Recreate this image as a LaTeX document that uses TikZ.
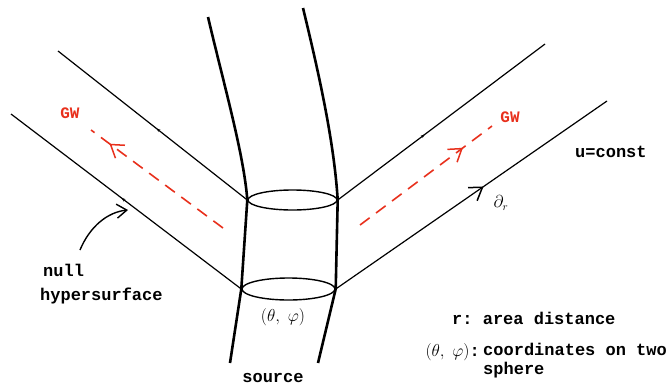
\documentclass[tikz,border=0pt]{standalone}
\usepackage{fontspec}
\setmonofont{Liberation Mono}
\usetikzlibrary{arrows.meta,decorations.markings,shapes.geometric}
\definecolor{gwred}{RGB}{232,48,28}
\tikzset{
ray/.style={line width=1.2pt},
tube/.style={line width=2.6pt},
ring/.style={draw,ellipse,line width=1.4pt,inner sep=0pt},
gw/.style={gwred,line width=1.6pt,dash pattern=on 12pt off 8pt},
tiptick/.style={postaction={decorate},decoration={markings,
  mark=at position #1 with {\arrow{Stealth[length=4pt,width=3pt]}}}},
tipbarb/.style={postaction={decorate},decoration={markings,
  mark=at position #1 with {\arrow[solid,line width=1.5pt]{Straight Barb[length=12pt,width=16pt]}}}},
lbl/.style={font=\ttfamily\bfseries\fontsize{17}{19}\selectfont,inner sep=0pt}
}
\begin{document}
\begin{tikzpicture}[x=1pt,y=-1pt]
\useasboundingbox (0,0) rectangle (670,386);

\node[ring,minimum width=89pt,minimum height=20pt] (top) at (292.5,200) {};
\node[ring,minimum width=93pt,minimum height=22pt] (bot) at (288.5,289) {};

\coordinate (lt) at (208,17);
\coordinate (lb) at (230,363);
\coordinate (rt) at (303,8);
\coordinate (rb) at (318,363);

\coordinate (ul) at (58,51);
\coordinate (ll) at (11,114);
\coordinate (ur) at (545,44);
\coordinate (lr) at (607,101);

\draw[tube] (lt) .. controls (224,85) and (244,155) .. (top.west) -- (bot.west) -- (lb);
\draw[tube] (rt) .. controls (318,70) and (334,140) .. (top.east) -- (bot.east) -- (rb);

\draw[ray,tiptick=0.48] (top.west) -- (ul);
\draw[ray,tiptick=0.52] (bot.west) -- (ll);
\draw[ray,tiptick=0.42] (top.east) -- (ur);
\draw[ray,tipbarb=0.545] (bot.east) -- (lr);

\coordinate (gwl1) at (223,228);
\coordinate (gwl2) at (91,130);
\coordinate (gwr1) at (360,225);
\coordinate (gwr2) at (492,126);
\draw[gw,tipbarb=0.86] (gwl1) -- (gwl2);
\draw[gw,tipbarb=0.78] (gwr1) -- (gwr2);

\node[lbl,gwred,font=\ttfamily\bfseries\fontsize{16}{18}\selectfont] (gwl) at (70,113) {GW};
\node[lbl,gwred,font=\ttfamily\bfseries\fontsize{16}{18}\selectfont] (gwr) at (510,117) {GW};

\node[lbl,anchor=west] (uc) at (575,152) {u=const};
\node[inner sep=0pt] (dr) at (501,203) {\fontsize{16}{18}\selectfont$\partial_r$};

\node[lbl,anchor=west] (null) at (43,270) {null};
\node[lbl,anchor=west] (hyp) at (40,296) {hypersurface};
\coordinate (nullto) at (128,210);
\draw[line width=1.4pt,-{Straight Barb[length=10pt,width=14pt]}] (80,250) .. controls (90,226) and (108,212) .. (nullto);

\node[inner sep=0pt] (ang) at (283,317) {\fontsize{16}{18}\selectfont$(\theta,\ \varphi)$};
\node[lbl] (src) at (273,378) {source};

\node[lbl,anchor=west] (rdef) at (452,318) {r: area distance};
\node[inner sep=0pt,anchor=east] (akey) at (480,352) {\fontsize{16}{18}\selectfont$(\theta,\ \varphi)$\ttfamily\bfseries\fontsize{17}{19}\selectfont:};
\node[lbl,anchor=north west,align=left] (adef) at (483,343) {coordinates on two\\sphere};
\end{tikzpicture}
\end{document}
